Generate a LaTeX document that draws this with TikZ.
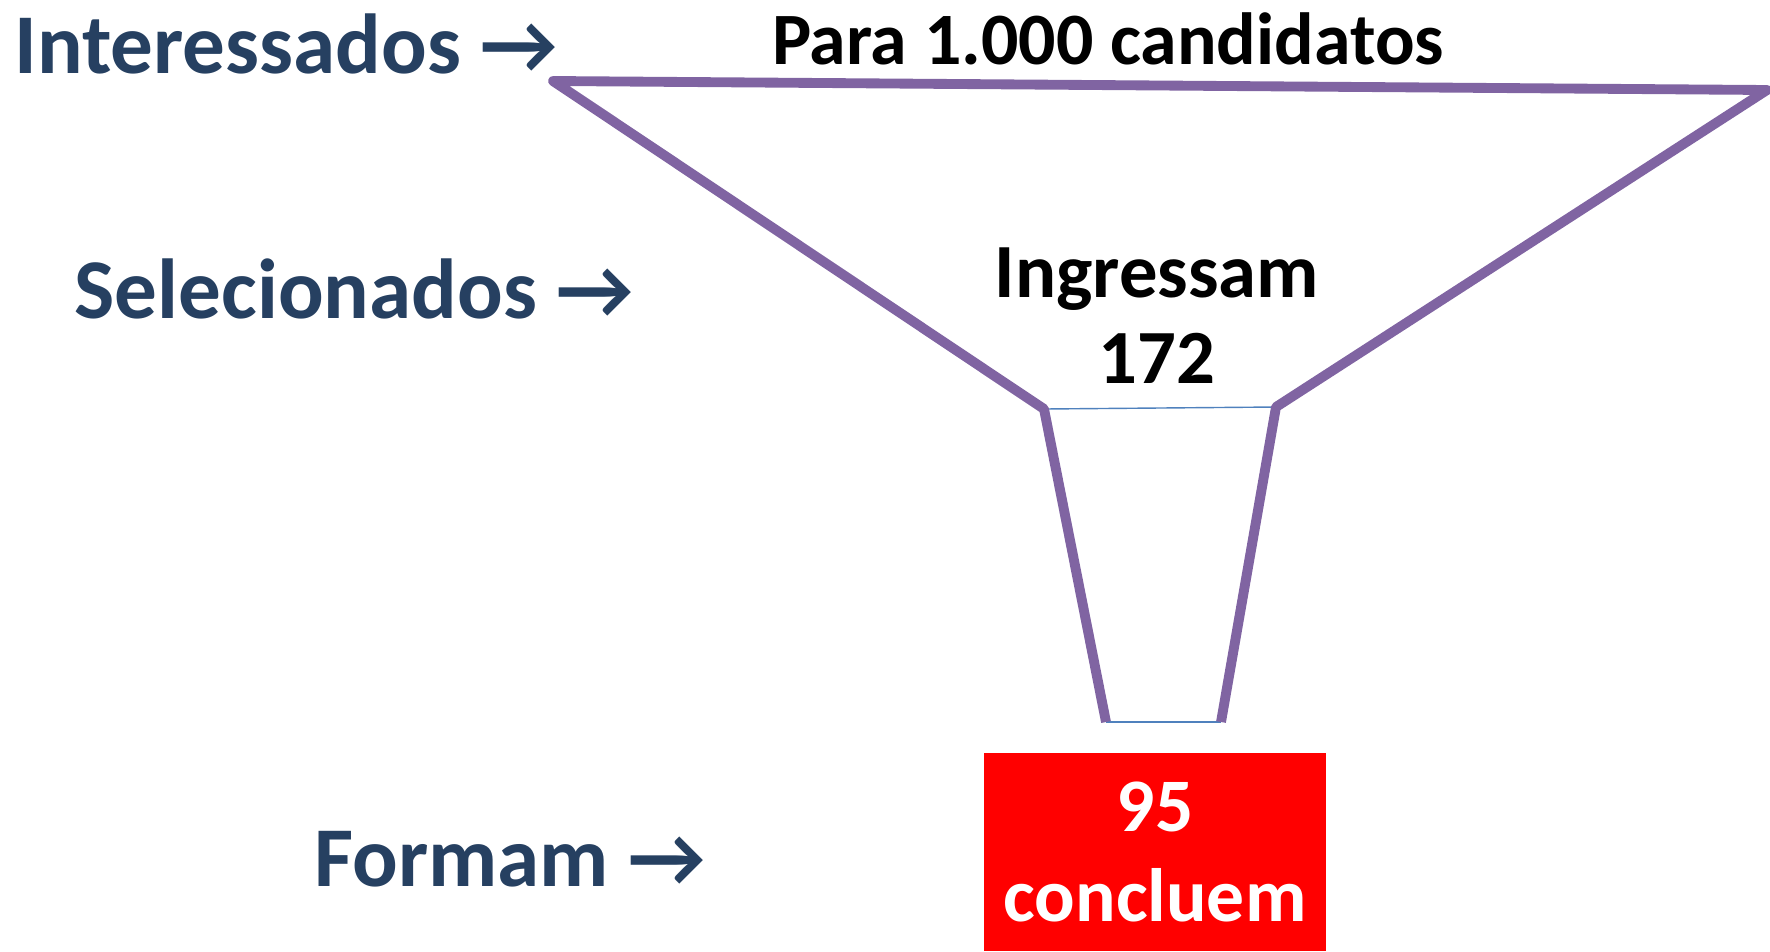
\documentclass[tikz,border=0pt]{standalone}
\usepackage{fontspec}
\setmainfont{Carlito}
\usepackage{tikz}
\usetikzlibrary{arrows,positioning}
\definecolor{navy}{RGB}{38,64,97}
\definecolor{funnelpurple}{RGB}{128,100,162}
\definecolor{rimblue}{RGB}{79,129,189}
\tikzstyle{stage}=[text=navy, inner sep=0pt, anchor=base west, font=\bfseries\fontsize{24.2}{28}\selectfont]
\tikzstyle{count}=[text=black, inner sep=0pt, align=center, font=\bfseries\fontsize{21.8}{24.5}\selectfont]
\tikzstyle{result}=[fill=red, text=white, inner sep=0pt, align=center, minimum width=3.42cm, minimum height=1.98cm, font=\bfseries\fontsize{21.5}{25.6}\selectfont]
\tikzstyle{funnel}=[draw=funnelpurple, line width=2.8pt, line join=round]
\tikzstyle{rim}=[draw=rimblue, line width=0.4pt]

\begin{document}
\begin{tikzpicture}[x=0.01cm,y=-0.01cm]
                        \useasboundingbox (0,0) rectangle (1770,951);
                        % funnel corners
                        \coordinate (tl) at (553,81);
                        \coordinate (tr) at (1767,90);
                        \coordinate (nl) at (1044,409);
                        \coordinate (nr) at (1276,407);
                        \coordinate (bl) at (1106,722);
                        \coordinate (br) at (1221,722);
                        \draw[rim] (nl) -- (nr);
                        \draw[rim] (bl) -- (br);
                        \draw[funnel] (bl) -- (nl) -- (tl) -- (tr) -- (nr) -- (br);
                        % labels
                        \node [stage] (int) at (14,73) {Interessados →};
                        \node [stage] (sel) at (74,318) {Selecionados →};
                        \node [stage] (form) at (314,886) {Formam →};
                        \node [count,anchor=base,font=\bfseries\fontsize{21}{24}\selectfont] (para) at (1108,64) {Para 1.000 candidatos};
                        \node [count] (ingr) at (1157,316) {Ingressam\\172};
                        \node [result] (concl) at (1155,852) {95\\concluem};
                    \end{tikzpicture}
\end{document}
